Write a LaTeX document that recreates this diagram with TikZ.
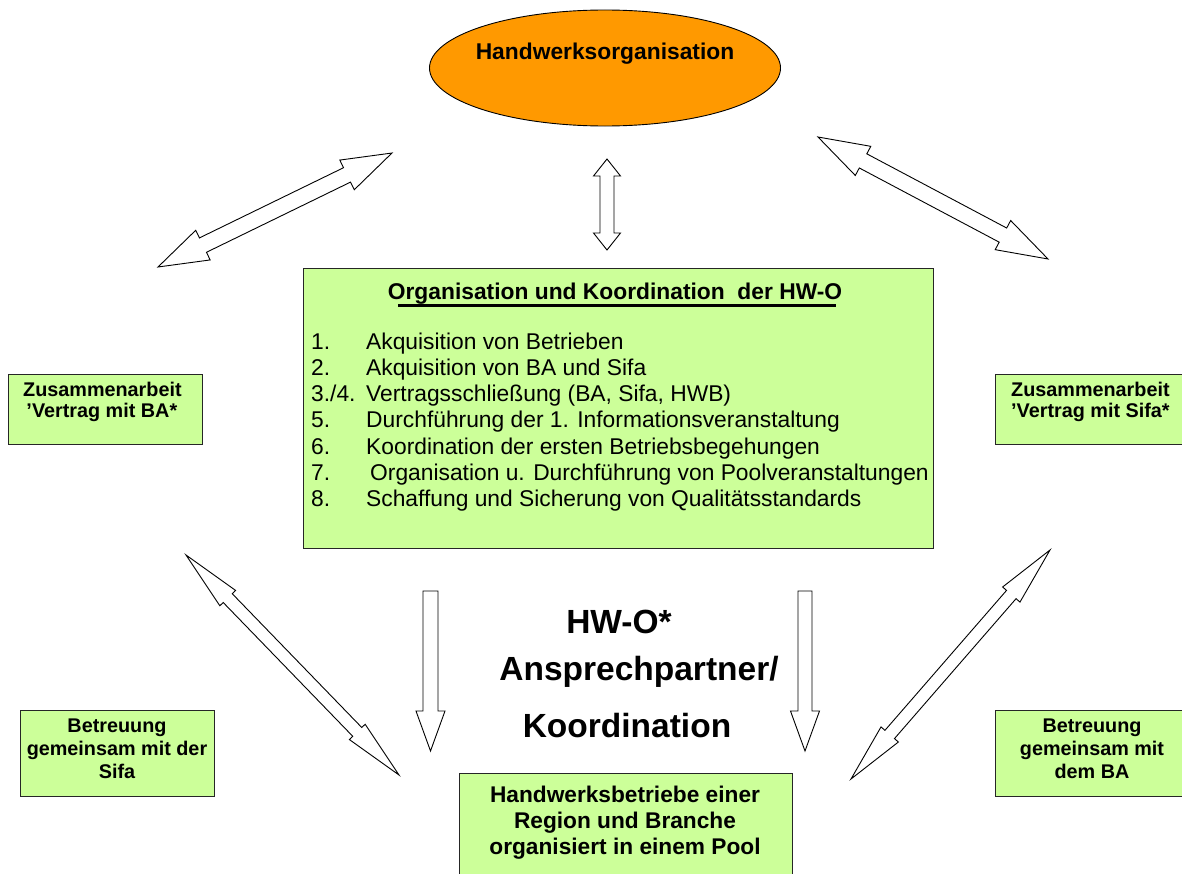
\documentclass[tikz,border=0pt]{standalone}
\usepackage{fontspec}
\setmainfont{Liberation Sans}
\usetikzlibrary{shapes.geometric}
\definecolor{boxgreen}{HTML}{CCFF99}
\definecolor{orgorange}{HTML}{FF9900}
\newcommand\blockdbl[5]{%
  \pgfpointdiff{\pgfpointanchor{#1}{center}}{\pgfpointanchor{#2}{center}}%
  \pgfgetlastxy{\bdx}{\bdy}%
  \pgfmathsetmacro\arrang{atan2(\bdy,\bdx)}%
  \pgfmathsetmacro\arrlen{veclen(\bdx,\bdy)}%
  \pgfmathsetmacro\arrneck{\arrlen-#5*1.00375}%
  \draw[blockarrow,shift={(#1)},rotate=\arrang]
    (0pt,0pt) -- (#5bp,#4bp) -- (#5bp,#3bp) -- (\arrneck pt,#3bp) -- (\arrneck pt,#4bp)
    -- (\arrlen pt,0pt) -- (\arrneck pt,-#4bp) -- (\arrneck pt,-#3bp) -- (#5bp,-#3bp)
    -- (#5bp,-#4bp) -- cycle;}
\newcommand\blocksgl[5]{%
  \pgfpointdiff{\pgfpointanchor{#1}{center}}{\pgfpointanchor{#2}{center}}%
  \pgfgetlastxy{\bdx}{\bdy}%
  \pgfmathsetmacro\arrang{atan2(\bdy,\bdx)}%
  \pgfmathsetmacro\arrlen{veclen(\bdx,\bdy)}%
  \pgfmathsetmacro\arrneck{\arrlen-#5*1.00375}%
  \draw[blockarrow,shift={(#1)},rotate=\arrang]
    (0pt,#3bp) -- (\arrneck pt,#3bp) -- (\arrneck pt,#4bp)
    -- (\arrlen pt,0pt) -- (\arrneck pt,-#4bp) -- (\arrneck pt,-#3bp) -- (0pt,-#3bp) -- cycle;}
\begin{document}
\begin{tikzpicture}[x=1bp,y=-1bp,
  box/.style={draw=black!85, line width=1.3bp, fill=boxgreen, rectangle, inner sep=0},
  blockarrow/.style={draw=black, fill=white, line width=0.9bp, line join=miter},
  bigtxt/.style={inner sep=0, font=\fontsize{22.8bp}{25bp}\selectfont\bfseries},
  listtxt/.style={inner sep=0, font=\fontsize{22.8bp}{26.3bp}\selectfont},
  sidetxt/.style={inner sep=0, font=\fontsize{19.8bp}{21bp}\selectfont\bfseries},
  hugetxt/.style={inner sep=0, font=\fontsize{33.5bp}{40bp}\selectfont\bfseries}]
\clip (0,0) rectangle (1182,874);
\fill[white] (0,0) rectangle (1182,874);

% top ellipse
\node[ellipse, draw=black, line width=0.9bp, fill=orgorange, minimum width=351bp, minimum height=116bp, inner sep=0] (hwo) at (605,68) {};
\node[bigtxt, anchor=base] (hwotxt) at (605,59) {Handwerksorganisation};

% central box
\node[box, anchor=north west, minimum width=630bp, minimum height=280bp] (koord) at (303,268) {};
\node[bigtxt, anchor=base] (koordtitle) at (615,299) {Organisation und Koordination\ \ der HW-O};
\draw[line width=2.5bp] (398,305.5) -- (836,305.5);
\node[listtxt, anchor=base west] (koordlist) at (311,349) {%
  \begin{tabular}[t]{@{}p{55bp}@{}l@{}}
  1. & Akquisition von Betrieben\\
  2. & Akquisition von BA und Sifa\\
  3./4. & Vertragsschließung (BA, Sifa, HWB)\\
  5. & Durchführung der 1. Informationsveranstaltung\\
  6. & Koordination der ersten Betriebsbegehungen\\
  7. & \hspace{4bp}Organisation u. Durchführung von Poolveranstaltungen\\
  8. & Schaffung und Sicherung von Qualitätsstandards
  \end{tabular}};

% side boxes
\node[box, anchor=north west, minimum width=194bp, minimum height=70bp] (zba) at (8,374) {};
\node[sidetxt, anchor=base west, align=left] (zbatxt) at (23,417) {Zusammenarbeit\\\,’Vertrag mit BA*};
\node[box, anchor=north west, minimum width=194bp, minimum height=70bp] (zsifa) at (995,374) {};
\node[sidetxt, anchor=base west, align=left] (zsifatxt) at (1011,417) {Zusammenarbeit\\’Vertrag mit Sifa*};

\node[box, anchor=north west, minimum width=194bp, minimum height=86bp] (bsifa) at (20,710) {};
\node[sidetxt, anchor=base, font=\fontsize{19.8bp}{23bp}\selectfont\bfseries, align=center] (bsifatxt) at (117,778) {Betreuung\\gemeinsam mit der\\Sifa};
\node[box, anchor=north west, minimum width=194bp, minimum height=86bp] (bba) at (995,710) {};
\node[sidetxt, anchor=base, font=\fontsize{19.8bp}{23bp}\selectfont\bfseries, align=center] (bbatxt) at (1092,778) {Betreuung\\gemeinsam mit\\dem BA};

% bottom box
\node[box, anchor=north west, minimum width=333bp, minimum height=120bp] (pool) at (459,773) {};
\node[bigtxt, anchor=base, font=\fontsize{22.7bp}{26bp}\selectfont\bfseries, align=center] (pooltxt) at (625,854) {Handwerksbetriebe einer\\Region und Branche\\organisiert in einem Pool};

% middle text
\node[hugetxt, anchor=base] (mid1) at (619,633) {HW-O*};
\node[hugetxt, anchor=base] (mid2) at (639,680) {Ansprechpartner/};
\node[hugetxt, anchor=base] (mid3) at (627,737) {Koordination};

% arrow end points
\coordinate (cva) at (607,159);
\coordinate (cvb) at (607,250);
\coordinate (tla) at (158,267);
\coordinate (tlb) at (392,153);
\coordinate (tra) at (818,137);
\coordinate (trb) at (1048,259);
\coordinate (bla) at (186,555);
\coordinate (blb) at (399,775);
\coordinate (bra) at (1050,550);
\coordinate (brb) at (851,779);
\coordinate (dla) at (430.5,591);
\coordinate (dlb) at (430.5,751);
\coordinate (dra) at (805,591);
\coordinate (drb) at (805,751);

\blockdbl{cva}{cvb}{7}{13.5}{17}
\blockdbl{tla}{tlb}{8}{16.5}{50}
\blockdbl{tra}{trb}{8}{16.5}{51}
\blockdbl{bla}{blb}{6.3}{11}{60}
\blockdbl{bra}{brb}{6.3}{11.5}{59}
\blocksgl{dla}{dlb}{7.5}{14.5}{40}
\blocksgl{dra}{drb}{7}{14.5}{40}
\end{tikzpicture}
\end{document}
